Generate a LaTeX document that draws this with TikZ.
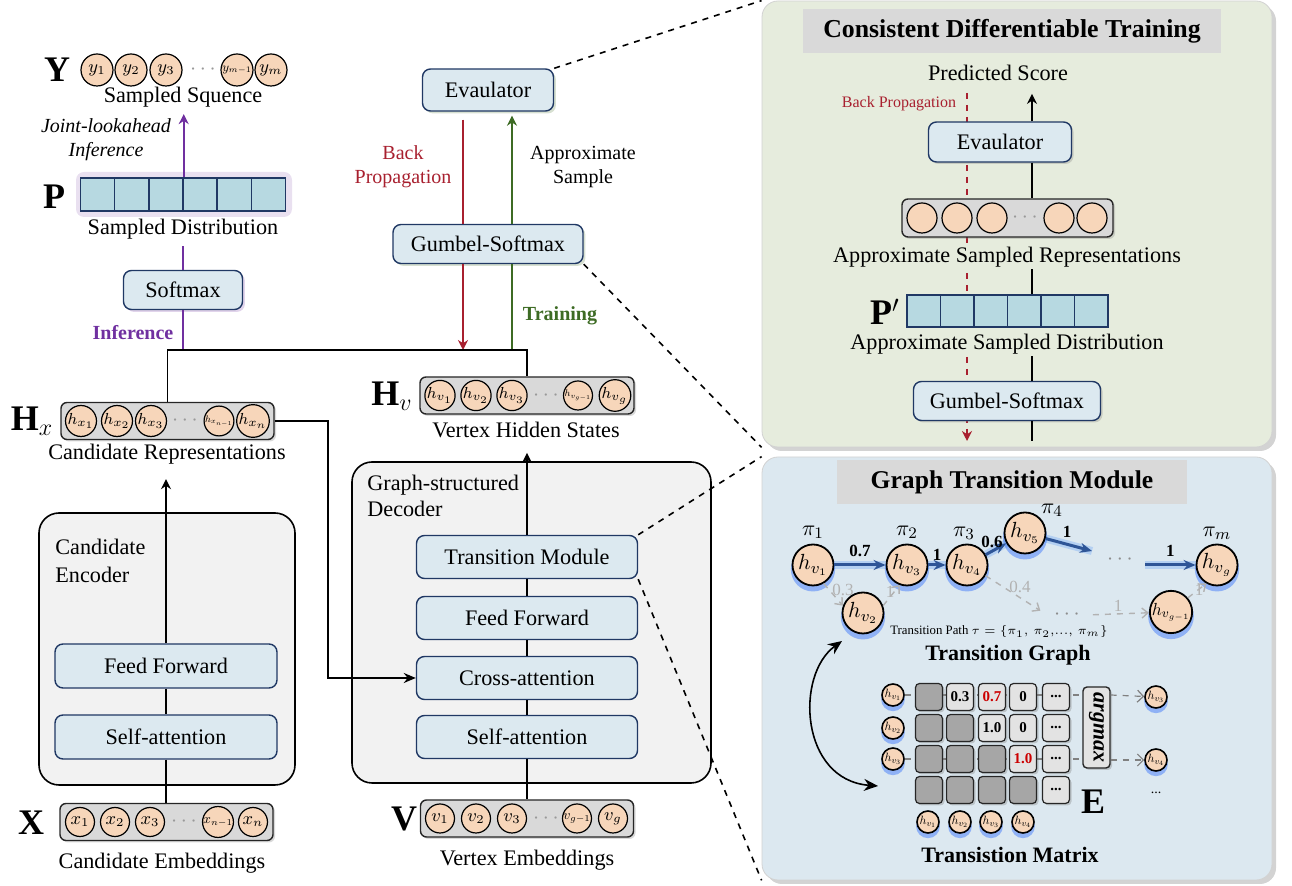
\documentclass[tikz,border=0pt]{standalone}
\usepackage{fontspec}
\setmainfont{Liberation Serif}
\usepackage{graphicx}
\usetikzlibrary{shadows,arrows.meta,calc}
\definecolor{boxfill}{HTML}{DCE9F0}
\definecolor{navy}{HTML}{203864}
\definecolor{peach}{HTML}{F7D6BA}
\definecolor{cellblue}{HTML}{B7D9E1}
\definecolor{bargray}{HTML}{D9D9D9}
\definecolor{encbg}{HTML}{F2F2F2}
\definecolor{purp}{HTML}{7030A0}
\definecolor{dred}{HTML}{A8202F}
\definecolor{dgreen}{HTML}{3D6B24}
\definecolor{panelG}{HTML}{E6ECDD}
\definecolor{panelB}{HTML}{DCE8F0}
\definecolor{titlegray}{HTML}{D9D9D9}
\definecolor{edgeblue}{HTML}{2E5597}
\definecolor{cellDark}{HTML}{A6A6A6}
\definecolor{cellLight}{HTML}{E3E3E3}
\tikzset{
  sh/.style={drop shadow={opacity=0.3,shadow xshift=1pt,shadow yshift=-1pt}},
  shp/.style={drop shadow={fill=purp!60,opacity=0.35,shadow xshift=1.2pt,shadow yshift=-1.2pt}},
  shg/.style={drop shadow={fill=dgreen!60,opacity=0.35,shadow xshift=1.2pt,shadow yshift=-1.2pt}},
  glow/.style={drop shadow={fill=blue!70!cyan,opacity=0.35,shadow xshift=0pt,shadow yshift=-2pt,shadow scale=1.08}},
  mbox/.style={draw=navy,line width=0.7pt,fill=boxfill,rounded corners=4pt,inner sep=0pt},
  tk/.style={circle,draw=black,line width=0.6pt,fill=peach,inner sep=0pt,minimum size=14.5pt,font=\fontsize{8}{8}\selectfont},
  bar/.style={draw=black!85,line width=0.7pt,fill=bargray,rounded corners=3pt,inner sep=0pt},
  pcell/.style={draw=navy,line width=0.7pt,fill=cellblue,inner sep=0pt},
  bigl/.style={font=\fontsize{18}{18}\selectfont},
  small/.style={font=\fontsize{10}{12}\selectfont},
  conn/.style={line width=0.8pt},
  gnode/.style={circle,draw=black,line width=0.9pt,fill=peach,inner sep=0pt,minimum size=20.5pt,font=\fontsize{11}{11}\selectfont,glow},
  stk/.style={circle,draw=black,line width=0.8pt,fill=peach,inner sep=0pt,minimum size=11pt,glow},
  bedge/.style={-{Stealth[length=6pt,width=5pt]},line width=1.5pt,draw=edgeblue,preaction={-,draw=blue!60!cyan,line width=4pt,opacity=0.18}},
  gedge/.style={-{Straight Barb[length=3pt,width=5pt]},dashed,line width=0.7pt,draw=gray!60},
  lbl/.style={font=\bfseries\fontsize{8.5}{9}\selectfont},
  glbl/.style={text=gray!60,font=\fontsize{8.5}{9}\selectfont},
  mcell/.style={draw=black!85,line width=0.6pt,rounded corners=2pt,minimum size=13.5pt,inner sep=0pt,font=\bfseries\fontsize{7.5}{8}\selectfont,drop shadow={opacity=0.35,shadow xshift=1pt,shadow yshift=-1pt}},
  mD/.style={mcell,fill=cellDark},
  mL/.style={mcell,fill=cellLight},
}
\begin{document}
\begin{tikzpicture}[x=0.5pt,y=-0.5pt,font=\fontsize{11.1}{12}\selectfont]
\useasboundingbox (0,0) rectangle (1292,886);

%================ RIGHT PANELS =================
\node[draw=gray!35,fill=panelG,rounded corners=8pt,minimum width=255pt,minimum height=223pt,drop shadow={opacity=0.35,shadow xshift=2pt,shadow yshift=-2pt}] (tp) at (1017,224) {};
\node[draw=gray!35,fill=panelB,rounded corners=8pt,minimum width=255pt,minimum height=211.5pt,drop shadow={opacity=0.35,shadow xshift=2pt,shadow yshift=-2pt}] (bp) at (1017,668.5) {};

% --- top panel
\node[fill=titlegray,minimum width=209pt,minimum height=22pt,font=\bfseries\fontsize{12.9}{14}\selectfont] (tpt) at (1012,31) {Consistent Differentiable Training};
\node (ps) at (998,73) {Predicted Score};
\node[text=dred,font=\fontsize{8}{9}\selectfont] (bp2) at (899,104) {Back Propagation};
\coordinate (bpTop) at (967,93);
\coordinate (bpBot) at (967,441);
\coordinate (cx) at (1032,0);
\draw[dred,dashed,line width=0.8pt,-{Stealth[length=5pt,width=5pt]}] (bpTop) -- (bpBot);
\node[mbox,sh,minimum width=71.5pt,minimum height=20pt] (ev2) at (1000,142) {Evaulator};
\node[bar,sh,minimum width=105.5pt,minimum height=19pt] (rbar) at (1007.5,218) {};
\foreach \i/\x in {1/922,2/957,3/992,4/1059,5/1092}
  \node[tk,minimum size=15pt] (r\i) at (\x,218) {};
\node[text=gray!80] (rdots) at (1025,218) {$\cdots$};
\node[fill=panelG,inner sep=1pt] (asr) at (1007,257) {Approximate Sampled Representations};
\foreach \k in {0,...,5}
  \node[pcell,minimum width=16.75pt,minimum height=16pt] (pp\k) at ({923.75+33.5*\k},311) {};
\node[bigl] (pplab) at (885,312) {$\mathbf{P}'$};
\node[fill=panelG,inner sep=1pt] (asd) at (1007,344) {Approximate Sampled Distribution};
\node[mbox,sh,minimum width=93.5pt,minimum height=19.5pt] (gum2) at (1007,401) {Gumbel-Softmax};
\draw[conn,-{Stealth[length=5pt,width=5pt]},shorten >=3pt] (cx |- ev2.north) -- (cx |- ps.south);
\draw[conn] (cx |- ev2.south) -- (cx |- rbar.north);
\draw[conn] (cx |- asr.south) -- (cx |- pp3.north);
\draw[conn] (cx |- asd.south) -- (cx |- gum2.north);
\draw[conn,shorten >=3pt] (cx |- gum2.south) -- (cx |- tp.south);

% --- bottom panel
\node[fill=titlegray,minimum width=175pt,minimum height=22pt,font=\bfseries\fontsize{12.8}{14}\selectfont] (bpt) at (1012,482) {Graph Transition Module};
\node[gnode] (g1) at (813,565) {$h_{v_1}$};
\node[gnode] (g3) at (907,565) {$h_{v_3}$};
\node[gnode] (g4) at (967,565) {$h_{v_4}$};
\node[gnode] (g5) at (1025,533) {$h_{v_5}$};
\node[gnode] (gG) at (1217,565) {$h_{v_g}$};
\node[gnode] (g2) at (863,613) {$h_{v_2}$};
\node[gnode] (gG1) at (1171,612) {\scalebox{0.8}{$h_{v_{g-1}}$}};
\node (pi1) at (813,532) {$\pi_1$};
\node (pi2) at (907,532) {$\pi_2$};
\node (pi3) at (964,533) {$\pi_3$};
\node (pi4) at (1052,510) {$\pi_4$};
\node (pim) at (1217,533) {$\pi_m$};
\node[text=gray!90] (gdots) at (1120,560) {$\cdots$};
\node[text=gray!90] (gdots2) at (1067,615) {$\cdots$};
\coordinate (ge1) at (1092,551);
\coordinate (gs) at (1145,565);
\draw[bedge] (g1) -- (g3) node[midway,above,lbl] {0.7};
\draw[bedge] (g3) -- (g4);
\node[lbl] (l34) at (937,555) {1};
\draw[bedge] (g4) -- (g5);
\node[lbl] (l45) at (992,542) {0.6};
\draw[bedge] (g5) -- (ge1);
\node[lbl] (l5e) at (1067,532) {1};
\draw[bedge] (gs) -- (gG) node[midway,above,lbl] {1};
\draw[gedge] (g1.-60) -- (g2.160);
\node[glbl] (l12) at (843,590) {0.3};
\draw[gedge] (g2.20) -- (g3.-110);
\node[glbl] (l23) at (890,592) {1};
\draw[gedge,shorten >=4pt] (g4.-30) -- (gdots2.west);
\node[glbl] (l4d) at (1020,587) {0.4};
\draw[gedge,shorten <=3pt] (gdots2.east) -- (gG1);
\node[glbl] (ldg) at (1118,606) {1};
\draw[gedge] (gG1.40) -- (gG.-120);
\node[glbl] (lgg) at (1199,590) {1};
\node[font=\fontsize{6.4}{8}\selectfont] (tpath) at (999,632) {Transition Path $\tau=\{\pi_1,\,\pi_2,\!...,\,\pi_m\}$};
\node[font=\bfseries\fontsize{11}{13}\selectfont] (tgl) at (1008,655) {Transition Graph};

% matrix
\foreach \r/\y/\v in {1/695/1,2/728/2,3/759/3}
  \node[stk] (rl\r) at (893,\y) {\scalebox{0.55}{$h_{v_\v}$}};
\node[draw=black!85,line width=0.7pt,fill=cellLight,rounded corners=2pt,minimum width=13.5pt,minimum height=40.5pt,inner sep=0pt,drop shadow={opacity=0.35,shadow xshift=1pt,shadow yshift=-1pt}] (am) at (1096.5,727.5) {\rotatebox{-90}{\bfseries\itshape\fontsize{11}{12}\selectfont argmax}};
\draw[gray,dashed,line width=0.6pt] (rl1) -- (am.west |- rl1);
\draw[gray,dashed,line width=0.6pt] (rl3) -- (am.west |- rl3);
\node[mD] (m11) at (929,697) {};
\node[mL] (m12) at (960,697) {0.3};
\node[mL,text=red!80!black] (m13) at (992,697) {0.7};
\node[mL] (m14) at (1023,697) {0};
\node[mL] (m15) at (1056,697) {...};
\node[mD] (m21) at (929,728) {};
\node[mD] (m22) at (960,728) {};
\node[mL] (m23) at (992,728) {1.0};
\node[mL] (m24) at (1023,728) {0};
\node[mL] (m25) at (1056,728) {...};
\node[mD] (m31) at (929,759) {};
\node[mD] (m32) at (960,759) {};
\node[mD] (m33) at (992,759) {};
\node[mL,text=red!80!black] (m34) at (1023,759) {1.0};
\node[mL] (m35) at (1056,759) {...};
\node[mD] (m41) at (929,790) {};
\node[mD] (m42) at (960,790) {};
\node[mD] (m43) at (992,790) {};
\node[mD] (m44) at (1023,790) {};
\node[mL] (m45) at (1056,790) {...};
\node[stk] (o1) at (1156,697) {\scalebox{0.55}{$h_{v_3}$}};
\node[stk] (o3) at (1156,760) {\scalebox{0.55}{$h_{v_4}$}};
\node[font=\fontsize{7}{8}\selectfont] (odots) at (1156,793) {...};
\draw[gray,dashed,line width=0.6pt,-{Straight Barb[length=3pt,width=6pt]}] (am.east |- rl1) -- (o1);
\draw[gray,dashed,line width=0.6pt,-{Straight Barb[length=3pt,width=6pt]}] (am.east |- o3) -- (o3);
\foreach \c/\x in {1/928,2/960,3/991,4/1023}
  \node[stk] (cl\c) at (\x,822) {\scalebox{0.55}{$h_{v_\c}$}};
\node[font=\fontsize{18}{18}\selectfont] (Elab) at (1093,802) {$\mathbf{E}$};
\node[font=\bfseries\fontsize{11}{13}\selectfont] (tml) at (1010,855) {Transistion Matrix};
\coordinate (ca) at (842,641);
\coordinate (cb) at (878,786);
\draw[line width=0.8pt,{Stealth[length=7pt,width=6pt]}-{Stealth[length=7pt,width=6pt]}] (ca) .. controls (795,675) and (800,780) .. (cb);

%================ LEFT COLUMN =================
\node[bigl] (Ylab) at (57,70) {$\mathbf{Y}$};
\foreach \i/\x/\t in {1/97/{$y_1$},2/131/{$y_2$},3/166/{$y_3$},4/237/{\scalebox{0.7}{$y_{m-1}$}},5/271/{$y_m$}}
  \node[tk,minimum size=16pt,font=\fontsize{9}{9}\selectfont] (y\i) at (\x,70) {\t};
\node[text=gray!80] (ydots) at (203,70) {$\cdots$};
\node (ss) at (183,97) {Sampled Squence};
\node[small,font=\itshape,align=center] (jl) at (106,140) {Joint-lookahead\\Inference};
\fill[purp!30,opacity=0.5,rounded corners=4pt] (76,172) rectangle (292,217);
\foreach \k in {0,...,5}
  \node[pcell,minimum width=17.08pt,minimum height=16.5pt] (p\k) at ({97.6+34.17*\k},194.5) {};
\node[bigl] (Plab) at (54,197) {$\mathbf{P}$};
\node (sd) at (183,229) {Sampled Distribution};
\node[mbox,shp,minimum width=59.5pt,minimum height=19.5pt] (soft) at (183,290) {Softmax};
\node[small,text=purp,font=\bfseries] (infl) at (133,333) {Inference};
\draw[purp,conn,-{Stealth[length=5pt,width=5pt]}] (p2.north east) -- (p2.north east |- ss.south);
\draw[purp,conn] (sd.south) -- (soft.north);
\coordinate (busL) at (167,350);
\coordinate (busR) at (527,350);
\draw[purp,conn] (soft.south) -- (soft.south |- busL);

% Hx
\node[bar,sh,minimum width=106.5pt,minimum height=18.5pt] (hxbar) at (167.5,421) {};
\foreach \i/\x/\t in {1/81/{$h_{x_1}$},2/117/{$h_{x_2}$},3/151/{$h_{x_3}$},4/219/{\scalebox{0.6}{$h_{x_{n-1}}$}},5/253/{$h_{x_n}$}}
  \node[tk] (hx\i) at (\x,421) {\t};
\node[text=gray!80] (hxd) at (185,421) {$\cdots$};
\node[bigl] (Hxlab) at (32,421) {$\mathbf{H}_x$};
\node (crl) at (167,454) {Candidate Representations};

% encoder
\node[draw,line width=0.8pt,fill=encbg,rounded corners=10pt,minimum width=128pt,minimum height=136pt] (enc) at (167,649) {};
\node[align=left,anchor=north west,inner sep=0pt] (encl) at (55,539) {Candidate\\[2pt]Encoder};
\node[mbox,minimum width=111pt,minimum height=22pt] (effl) at (166,666) {Feed Forward};
\node[mbox,minimum width=111pt,minimum height=22pt] (esal) at (166,737) {Self-attention};
\draw[conn] (effl.south) -- (esal.north);
\draw[conn,-{Stealth[length=5pt,width=5pt]},shorten >=4pt] (effl.north) -- (effl.north |- crl.south);

% X
\node[bar,sh,minimum width=106.5pt,minimum height=18.5pt] (xbar) at (166.5,822) {};
\foreach \i/\x/\t in {1/80/{$x_1$},2/115/{$x_2$},3/150/{$x_3$},4/218/{\scalebox{0.75}{$x_{n-1}$}},5/253/{$x_n$}}
  \node[tk,font=\fontsize{9}{9}\selectfont] (x\i) at (\x,822) {\t};
\node[text=gray!80] (xd) at (184,822) {$\cdots$};
\node[bigl] (Xlab) at (31,823) {$\mathbf{X}$};
\node (cel) at (162,863) {Candidate Embeddings};
\draw[conn] (esal.south) -- (esal.south |- xbar.north);

%================ MIDDLE COLUMN =================
\node[mbox,shg,minimum width=65.5pt,minimum height=21pt] (ev) at (488,90) {Evaulator};
\node[mbox,shg,minimum width=95pt,minimum height=19.5pt] (gum) at (488,244) {Gumbel-Softmax};
\node[small,text=dred,align=center] (bpl) at (403,167) {Back\\Propagation};
\node[small,align=center] (asl) at (583,167) {Approximate\\Sample};
\node[small,text=dgreen,font=\bfseries] (trl) at (560,316) {Training};
\coordinate (gB) at (512,350);
\coordinate (rB) at (463,350);
\draw[dgreen,conn] (gB) -- (gB |- gum.south);
\draw[dgreen,conn,-{Stealth[length=5pt,width=5pt]},shorten >=2pt] (gB |- gum.north) -- (gB |- ev.south);
\draw[dred,conn,shorten <=4pt] (rB |- ev.south) -- (rB |- gum.north);
\draw[dred,conn,-{Stealth[length=5pt,width=5pt]}] (rB |- gum.south) -- (rB);

% Hv
\node[bar,sh,minimum width=107pt,minimum height=18.5pt] (hvbar) at (527,395.5) {};
\foreach \i/\x/\t in {1/440/{$h_{v_1}$},2/476/{$h_{v_2}$},3/512/{$h_{v_3}$},4/578/{\scalebox{0.6}{$h_{v_{g-1}}$}},5/615/{$h_{v_g}$}}
  \node[tk] (hv\i) at (\x,395.5) {\t};
\node[text=gray!80] (hvd) at (546,395.5) {$\cdots$};
\node[bigl] (Hvlab) at (392,396) {$\mathbf{H}_v$};
\node (vhs) at (526,430) {Vertex Hidden States};

\draw[conn] (hxbar.north) |- (busR) -- (hvbar.north);

% decoder
\node[draw,line width=0.8pt,fill=encbg,rounded corners=10pt,minimum width=179.5pt,minimum height=160.5pt] (dec) at (531.5,622.5) {};
\node[align=left,anchor=north west,inner sep=0pt] (decl) at (367,475) {Graph-structured\\[1pt]Decoder};
\node[mbox,minimum width=110.5pt,minimum height=21.5pt] (dtm) at (527,557) {Transition Module};
\node[mbox,minimum width=110.5pt,minimum height=21.5pt] (dff) at (527,618) {Feed Forward};
\node[mbox,minimum width=110.5pt,minimum height=21.5pt] (dca) at (527,678) {Cross-attention};
\node[mbox,minimum width=110.5pt,minimum height=21.5pt] (dsa) at (527,737) {Self-attention};
\draw[conn] (dsa.north) -- (dca.south);
\draw[conn] (dca.north) -- (dff.south);
\draw[conn] (dff.north) -- (dtm.south);
\draw[conn,-{Stealth[length=5pt,width=5pt]},shorten >=4pt] (dtm.north) -- (dtm.north |- vhs.south);

% V
\node[bar,sh,minimum width=106.5pt,minimum height=18.5pt] (vbar) at (527,818.5) {};
\foreach \i/\x/\t in {1/440/{$v_1$},2/476/{$v_2$},3/512/{$v_3$},4/577/{\scalebox{0.75}{$v_{g-1}$}},5/613/{$v_g$}}
  \node[tk,font=\fontsize{9}{9}\selectfont] (v\i) at (\x,818.5) {\t};
\node[text=gray!80] (vd) at (546,818.5) {$\cdots$};
\node[bigl] (Vlab) at (404,819) {$\mathbf{V}$};
\node (vel) at (527,860) {Vertex Embeddings};
\draw[conn] (dsa.south) -- (dsa.south |- vbar.north);

% Hx -> cross-attention
\draw[line width=1pt,-{Stealth[length=6pt,width=5pt]}] (hxbar.east) -- ++(53,0) |- (dca.west);

% zoom dashed lines
\draw[dashed,line width=0.8pt] (ev.north east) -- (tp.north west);
\draw[dashed,line width=0.8pt] (gum.south east) -- (tp.south west);
\draw[dashed,line width=0.8pt] (dtm.north east) -- (bp.north west);
\draw[dashed,line width=0.8pt] (dtm.south east) -- (bp.south west);
\end{tikzpicture}
\end{document}
